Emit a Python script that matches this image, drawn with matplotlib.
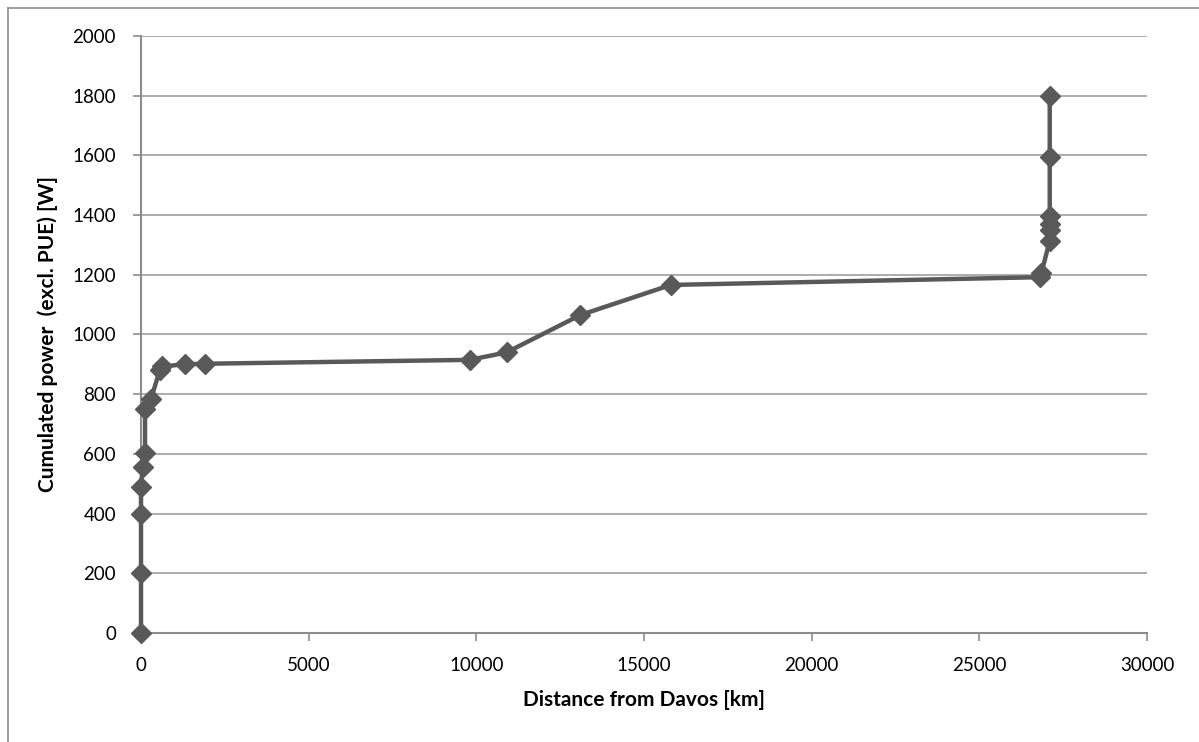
import matplotlib.pyplot as plt
from matplotlib.lines import Line2D

plt.rcParams['font.family'] = ['Lato', 'DejaVu Sans']

# distance from Davos [km] and cumulated power [W]
distance_km = [0, 0, 0, 0, 50, 120, 120, 300, 560, 620, 1300, 1900,
               9800, 10900, 13100, 15800, 26800, 26850,
               27100, 27100, 27100, 27100, 27100, 27100]
power_w = [0, 200, 400, 490, 557, 604, 752, 785, 880, 893, 900, 902,
           915, 940, 1065, 1166, 1192, 1205,
           1314, 1350, 1370, 1398, 1595, 1799]

x_ticks = [0, 5000, 10000, 15000, 20000, 25000, 30000]
y_ticks = [0, 200, 400, 600, 800, 1000, 1200, 1400, 1600, 1800, 2000]

fig = plt.figure(figsize=(11.99, 7.42), dpi=100)
ax = fig.add_axes([0.1176, 0.1469, 0.839, 0.8046])

ax.plot(distance_km, power_w, color='#595959', linewidth=3.2,
        marker='D', markersize=10, markerfacecolor='#595959',
        markeredgecolor='#595959', zorder=3, clip_on=False)

ax.set_xlim(0, 30000)
ax.set_ylim(0, 2000)
ax.set_xticks(x_ticks)
ax.set_yticks(y_ticks)
ax.yaxis.grid(True, color='#a6a6a6', linewidth=1.3)
ax.set_axisbelow(True)

for side in ['top', 'right']:
    ax.spines[side].set_visible(False)
for side in ['left', 'bottom']:
    ax.spines[side].set_color('#8c8c8c')
    ax.spines[side].set_linewidth(1.5)

ax.tick_params(axis='both', colors='#8c8c8c', length=6, width=1.2,
               labelsize=13.5, labelcolor='black')
ax.tick_params(axis='y', pad=12)
ax.tick_params(axis='x', pad=11)

ax.set_xlabel('Distance from Davos [km]', fontsize=15, fontweight='bold', labelpad=12)
ax.set_ylabel('Cumulated power  (excl. PUE) [W]', fontsize=15, fontweight='bold', labelpad=10)

# outer chart frame
fig.add_artist(Line2D([8 / 1199, 8 / 1199], [0, 1 - 8 / 742], color='#8c8c8c', linewidth=1.2))
fig.add_artist(Line2D([8 / 1199, 1], [1 - 8 / 742, 1 - 8 / 742], color='#8c8c8c', linewidth=1.2))

fig.savefig('out.png', dpi=100)
